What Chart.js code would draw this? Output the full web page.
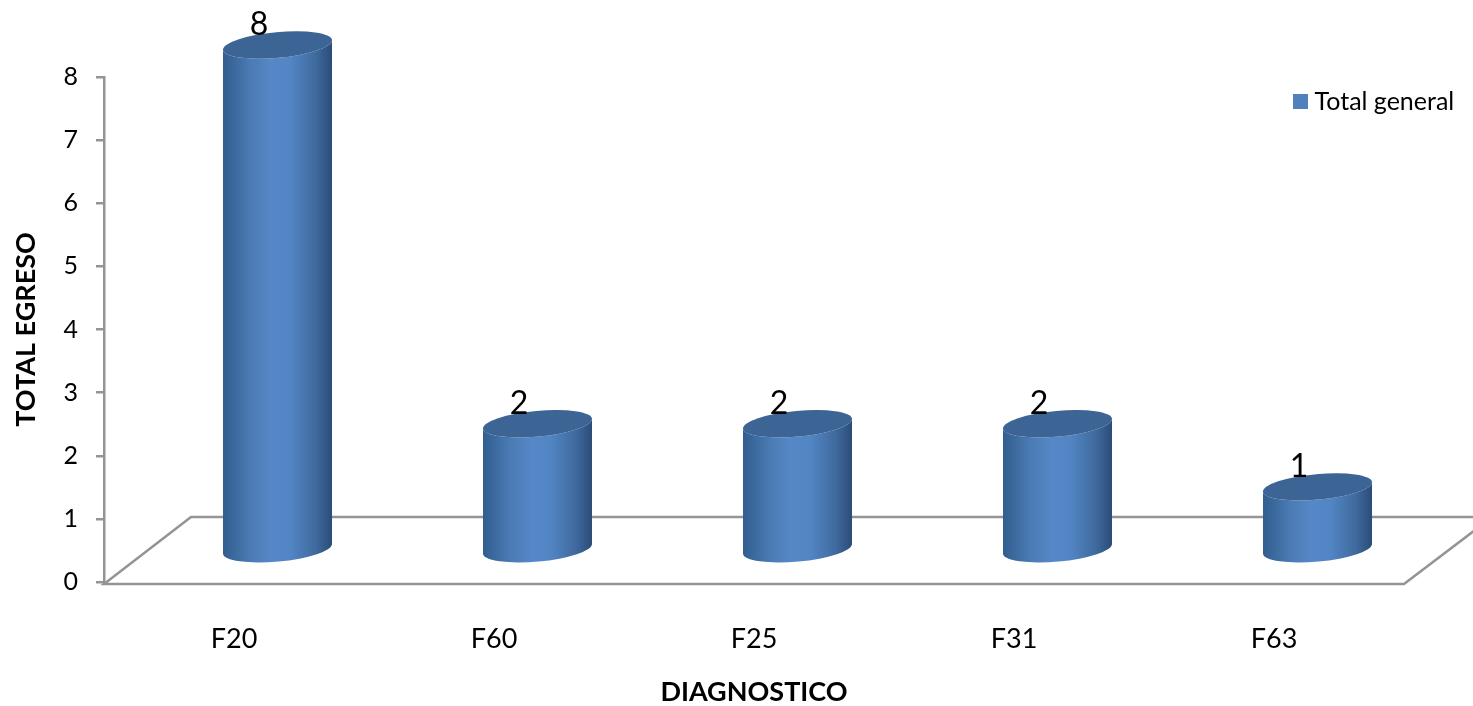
<!DOCTYPE html>
<html>
<head>
<meta charset="utf-8">
<title>Total egreso por diagnostico</title>
<script src="https://cdn.jsdelivr.net/npm/chart.js@4/dist/chart.umd.js"></script>
<style>
  html, body { margin: 0; padding: 0; background: #fff; }
  canvas { display: block; }
</style>
</head>
<body>
<canvas id="chart" width="1473" height="706"></canvas>
<script>
const categories = ["F20", "F60", "F25", "F31", "F63"];
const totals = [8, 2, 2, 2, 1];
const seriesName = "Total general";

const FONT = "Lato, 'Open Sans', sans-serif";
const AXIS_GREY = "#949494";
const BAR_BLUE = "#4f81bd";
// the 3D floor: how far the back edge sits from the front edge
const FLOOR_DX = 87;
const FLOOR_DY = -66;

const swatch = document.createElement("canvas");
swatch.width = 15;
swatch.height = 15;
const swatchCtx = swatch.getContext("2d");
swatchCtx.fillStyle = BAR_BLUE;
swatchCtx.fillRect(0, 0, 15, 15);

const floor3d = {
  id: "floor3d",
  beforeDatasetsDraw(chart) {
    const { ctx, chartArea: a } = chart;
    const front = a.bottom + 2;
    ctx.save();
    ctx.strokeStyle = AXIS_GREY;
    ctx.lineWidth = 2.5;
    ctx.beginPath();
    ctx.moveTo(a.right + FLOOR_DX, front + FLOOR_DY - 1);
    ctx.lineTo(a.left + FLOOR_DX, front + FLOOR_DY - 1);
    ctx.lineTo(a.left, front);
    ctx.lineTo(a.right, front);
    ctx.lineTo(a.right + FLOOR_DX, front + FLOOR_DY);
    ctx.stroke();
    ctx.restore();
  },
};

const cylinders = {
  id: "cylinders",
  // replaces the flat bars, takes everything from the bar elements
  beforeDatasetDraw(chart, args) {
    const { ctx } = chart;
    const dx = FLOOR_DX / 2;
    const dy = FLOOR_DY / 2 + 1;
    const tilt = -0.09;
    args.meta.data.forEach((bar, i) => {
      const cx = bar.x + dx;
      const top = bar.y + dy;
      const bottom = bar.base + dy;
      const rx = bar.width / 2;
      const ry = 12.8;
      const left = cx - rx;

      const side = ctx.createLinearGradient(left, 0, left + bar.width, 0);
      side.addColorStop(0, "#315d8f");
      side.addColorStop(0.25, "#4a7bb3");
      side.addColorStop(0.45, "#5688c8");
      side.addColorStop(0.62, "#5285c4");
      side.addColorStop(0.85, "#3f6a9e");
      side.addColorStop(1, "#2b4b77");

      ctx.save();
      ctx.fillStyle = side;
      ctx.beginPath();
      ctx.ellipse(cx, bottom, rx, ry, tilt, 0, Math.PI);
      ctx.ellipse(cx, top, rx, ry, tilt, Math.PI, 0, true);
      ctx.closePath();
      ctx.fill();

      ctx.fillStyle = "#3c6494";
      ctx.beginPath();
      ctx.ellipse(cx, top, rx, ry, tilt, 0, Math.PI * 2);
      ctx.fill();

      ctx.fillStyle = "#000";
      ctx.font = "32px " + FONT;
      ctx.textAlign = "center";
      ctx.textBaseline = "middle";
      ctx.fillText(totals[i], cx - 18.5, top - 20);
      ctx.restore();
    });
    return false;
  },
};

// the legend sits to the right of the plot area, over the floor's margin
const legendPlace = {
  id: "legendPlace",
  afterLayout(chart) {
    const legend = chart.legend;
    legend.left = 1293;
    legend.right = 1473;
    legend.top = 83;
    legend.bottom = 125;
  },
};

new Chart(document.getElementById("chart"), {
  type: "bar",
  data: {
    labels: categories,
    datasets: [{
      label: seriesName,
      data: totals,
      backgroundColor: BAR_BLUE,
      categoryPercentage: 1,
      barPercentage: 0.421,
    }],
  },
  plugins: [floor3d, cylinders, legendPlace],
  options: {
    responsive: false,
    animation: false,
    layout: { padding: { top: 77, right: 69 } },
    plugins: {
      tooltip: { enabled: false },
      legend: {
        position: "chartArea",
        align: "start",
        labels: {
          usePointStyle: true,
          pointStyle: swatch,
          pointStyleWidth: 3,
          padding: 6,
          color: "#000",
          font: { family: FONT, size: 25 },
        },
      },
    },
    scales: {
      x: {
        afterFit: (scale) => { scale.height = 124; },
        grid: { display: false },
        border: { display: false },
        ticks: { color: "#000", padding: 33, maxRotation: 0, font: { family: FONT, size: 27 } },
        title: {
          display: true,
          text: "DIAGNOSTICO",
          color: "#000",
          padding: { top: 0, bottom: 0 },
          font: { family: FONT, size: 27, weight: "bold", lineHeight: 1 },
        },
      },
      y: {
        min: 0,
        max: 8,
        afterFit: (scale) => { scale.width = 104; },
        grid: { drawOnChartArea: false, color: AXIS_GREY, lineWidth: 2.5, tickLength: 8 },
        border: { color: AXIS_GREY, width: 2.5 },
        ticks: { stepSize: 1, color: "#000", padding: 18, font: { family: FONT, size: 25 } },
        title: {
          display: true,
          text: "TOTAL EGRESO",
          color: "#000",
          padding: { top: 13, bottom: 0 },
          font: { family: FONT, size: 27, weight: "bold", lineHeight: 1 },
        },
      },
    },
  },
});
</script>
</body>
</html>
